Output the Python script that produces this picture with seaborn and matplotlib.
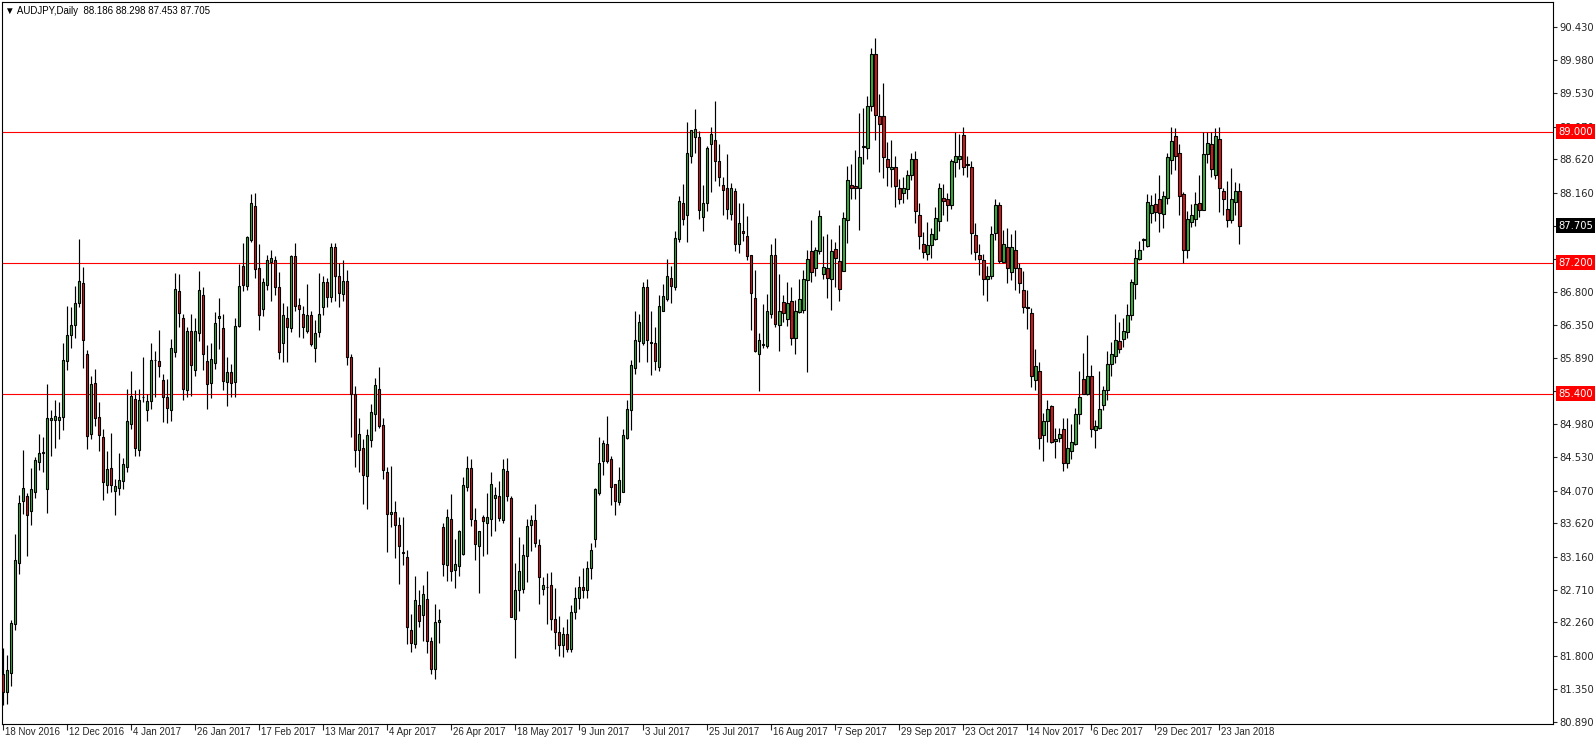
import pandas as pd
import matplotlib
matplotlib.use("Agg")
import matplotlib.pyplot as plt
import seaborn as sns
from matplotlib.transforms import blended_transform_factory, ScaledTranslation

# AUDJPY daily candles (one row per trading day)
opens = [
    81.55, 81.31, 81.57, 82.24, 83.08, 83.93, 84.00, 83.79, 84.05, 84.46,
    84.59, 84.09, 85.04, 85.04, 85.04, 85.08, 85.85, 86.21, 86.35, 86.65,
    86.92, 85.94, 84.85, 85.55, 85.08, 84.81, 84.14, 84.38, 84.06, 84.11,
    84.20, 84.39, 84.99, 85.33, 84.63, 85.35, 85.18, 85.30, 85.86, 85.85,
    85.59, 85.36, 85.18, 85.97, 86.81, 86.44, 85.45, 86.26, 85.73, 86.23,
    86.76, 85.85, 85.55, 85.82, 86.44, 86.30, 85.56, 85.70, 85.56, 86.33,
    87.15, 86.88, 87.51, 87.98, 87.13, 86.57, 86.90, 87.21, 87.24, 86.87,
    86.09, 86.44, 86.30, 87.29, 86.62, 86.50, 86.26, 86.48, 86.03, 86.25,
    86.59, 86.94, 86.73, 87.41, 87.01, 86.77, 86.95, 85.91, 85.39, 84.63,
    84.66, 84.27, 84.77, 85.12, 85.47, 84.97, 84.33, 83.75, 83.78, 83.60,
    83.22, 83.16, 82.16, 81.96, 82.50, 82.36, 82.58, 82.00, 81.62, 82.27,
    83.57, 83.05, 83.68, 82.98, 83.03, 83.20, 84.12, 84.38, 83.66, 83.31,
    83.71, 83.63, 83.68, 83.97, 84.00, 83.67, 84.34, 83.97, 82.31, 82.70,
    82.72, 83.17, 83.60, 83.67, 83.32, 82.72, 82.74, 82.77, 82.31, 82.13,
    81.95, 82.10, 81.90, 82.40, 82.60, 82.75, 82.70, 83.00, 83.40, 84.04,
    84.47, 84.71, 84.50, 84.16, 83.91, 84.05, 84.79, 85.17, 85.75, 86.12,
    86.10, 86.87, 86.11, 86.10, 85.77, 86.54, 86.70, 86.99, 86.87, 87.53,
    88.02, 87.85, 88.67, 88.92, 88.92, 87.83, 88.02, 88.83, 88.89, 88.60,
    88.27, 88.22, 87.87, 88.18, 87.45, 87.64, 87.56, 87.30, 86.72, 85.95,
    86.07, 86.05, 86.50, 87.31, 86.34, 86.66, 86.43, 86.67, 86.16, 86.52,
    86.55, 86.96, 87.36, 87.12, 87.36, 87.05, 87.13, 86.97, 87.39, 87.22,
    87.09, 87.79, 88.27, 88.25, 88.23, 88.79, 88.77, 89.35, 90.07, 89.21,
    89.21, 88.63, 88.48, 88.51, 88.22, 88.15, 88.21, 88.41, 88.62, 87.86,
    87.46, 87.32, 87.44, 87.52, 87.77, 88.09, 88.07, 87.99, 88.58, 88.62,
    88.96, 88.55, 88.52, 87.58, 87.31, 87.23, 86.98, 87.02, 87.61, 87.99,
    87.21, 87.41, 87.07, 87.38, 87.12, 86.82, 86.59, 86.51, 85.59, 85.71,
    84.84, 85.03, 85.23, 84.75, 84.79, 84.91, 84.45, 84.61, 84.71, 85.12,
    85.60, 85.40, 85.65, 84.90, 84.93, 85.24, 85.45, 85.81, 85.92, 86.12,
    86.15, 86.25, 86.48, 86.91, 87.25, 87.51, 87.43, 87.88, 88.01, 88.07,
    87.87, 88.09, 88.61, 88.94, 88.70, 88.14, 87.37, 87.76, 87.80, 88.02,
    87.93, 88.69, 88.83, 88.40, 88.90, 88.19, 87.94, 87.78, 88.04, 88.186,
]
highs = [
    81.91, 81.81, 82.29, 83.48, 84.01, 84.63, 84.03, 84.38, 84.53, 84.85,
    84.81, 85.54, 85.17, 85.32, 85.28, 86.09, 86.61, 86.59, 86.88, 87.52,
    87.14, 86.00, 85.65, 85.74, 85.29, 84.91, 84.61, 84.86, 84.23, 84.59,
    84.52, 85.47, 85.71, 85.45, 85.47, 85.91, 85.40, 86.09, 85.98, 86.28,
    85.67, 85.60, 86.15, 87.06, 87.04, 86.50, 86.32, 86.50, 86.44, 87.08,
    86.86, 86.07, 86.10, 86.52, 86.72, 86.49, 85.90, 85.81, 86.44, 87.18,
    87.47, 87.57, 88.14, 88.16, 87.45, 86.99, 87.31, 87.38, 87.29, 87.07,
    86.64, 86.60, 87.31, 87.47, 86.71, 86.60, 86.91, 86.54, 86.41, 87.06,
    87.02, 86.99, 87.47, 87.47, 87.20, 87.23, 87.10, 85.94, 85.50, 85.07,
    84.78, 84.92, 85.26, 85.61, 85.77, 85.07, 84.40, 84.41, 83.92, 83.71,
    83.71, 83.26, 82.38, 82.90, 82.70, 82.77, 82.96, 82.06, 82.51, 82.44,
    83.62, 83.81, 84.02, 83.41, 83.53, 84.26, 84.54, 84.51, 83.83, 83.52,
    83.73, 84.04, 84.33, 84.12, 84.20, 84.51, 84.52, 83.99, 83.08, 83.43,
    83.33, 83.68, 83.73, 83.88, 83.41, 82.88, 82.94, 82.95, 82.73, 82.35,
    82.20, 82.30, 82.50, 82.75, 82.90, 83.00, 83.10, 83.35, 84.11, 84.81,
    84.77, 85.09, 84.55, 84.16, 84.39, 84.91, 85.32, 85.86, 86.53, 86.49,
    86.93, 86.97, 86.54, 86.32, 86.76, 86.91, 87.25, 87.15, 87.64, 88.12,
    88.28, 89.13, 89.02, 89.31, 89.01, 88.26, 88.80, 89.07, 89.42, 88.83,
    88.37, 88.69, 88.30, 88.22, 88.02, 88.02, 87.84, 87.30, 87.10, 86.24,
    86.63, 86.77, 87.46, 87.54, 87.04, 86.75, 86.93, 86.87, 86.69, 86.97,
    87.10, 87.38, 87.79, 87.42, 87.93, 87.56, 87.59, 87.52, 87.48, 87.72,
    87.90, 88.53, 88.55, 88.75, 89.26, 89.33, 89.49, 90.15, 90.29, 89.52,
    89.67, 88.86, 88.88, 88.66, 88.35, 88.38, 88.47, 88.71, 88.73, 88.02,
    87.62, 87.76, 87.67, 87.97, 88.29, 88.28, 88.16, 88.63, 88.99, 88.97,
    89.06, 88.67, 88.60, 87.75, 87.45, 87.32, 87.15, 87.71, 88.08, 88.03,
    87.65, 87.68, 87.59, 87.65, 87.19, 87.08, 86.83, 86.58, 86.02, 85.84,
    85.13, 85.31, 85.25, 84.93, 84.93, 85.06, 85.06, 84.99, 85.21, 85.71,
    85.96, 86.20, 85.80, 85.04, 85.71, 85.51, 85.99, 86.11, 86.49, 86.38,
    86.44, 86.63, 86.98, 87.39, 87.50, 87.54, 88.14, 88.13, 88.16, 88.40,
    88.18, 88.71, 89.07, 89.05, 88.83, 88.17, 87.91, 88.01, 88.17, 88.41,
    88.99, 88.99, 88.99, 89.05, 89.06, 88.22, 88.32, 88.50, 88.31, 88.298,
]
lows = [
    81.12, 81.14, 81.38, 82.16, 82.93, 83.75, 83.17, 83.60, 83.97, 84.35,
    84.32, 83.76, 84.55, 84.65, 84.78, 84.90, 85.72, 86.03, 86.16, 86.59,
    85.75, 84.64, 84.78, 84.96, 84.61, 83.94, 84.03, 84.05, 83.74, 84.01,
    84.09, 84.32, 84.91, 84.55, 84.55, 85.29, 85.03, 85.19, 85.35, 85.63,
    85.01, 85.00, 85.03, 85.91, 86.32, 85.32, 85.35, 85.37, 85.64, 86.12,
    85.73, 85.19, 85.34, 85.74, 86.02, 85.45, 85.23, 85.35, 85.35, 86.32,
    86.81, 86.83, 87.48, 86.99, 86.28, 86.47, 86.83, 86.67, 86.75, 85.88,
    85.83, 85.83, 86.25, 86.54, 86.18, 86.16, 86.23, 86.05, 85.83, 86.18,
    86.48, 86.59, 86.66, 86.68, 86.59, 86.67, 85.79, 84.80, 84.40, 84.33,
    83.88, 83.81, 84.67, 84.89, 84.93, 84.23, 83.22, 83.57, 83.14, 82.79,
    83.05, 81.96, 81.85, 81.91, 82.19, 82.00, 81.84, 81.55, 81.48, 81.97,
    82.89, 82.83, 82.83, 82.73, 82.90, 83.19, 84.07, 83.59, 83.11, 82.67,
    83.17, 83.20, 83.44, 83.51, 83.65, 83.62, 83.92, 82.33, 81.77, 82.42,
    82.66, 82.81, 83.24, 83.29, 82.51, 82.64, 82.24, 82.15, 81.90, 81.80,
    81.78, 81.85, 81.85, 82.30, 82.45, 82.60, 82.60, 82.85, 83.30, 84.01,
    84.28, 84.45, 83.87, 83.73, 83.87, 84.05, 84.78, 84.90, 85.67, 85.83,
    86.07, 85.83, 85.66, 85.72, 85.71, 86.53, 86.68, 86.64, 86.83, 87.48,
    87.72, 87.48, 88.57, 88.70, 87.80, 87.64, 87.91, 88.17, 88.32, 88.25,
    87.85, 87.80, 87.78, 87.36, 87.33, 87.50, 87.24, 86.28, 85.97, 85.44,
    86.03, 86.03, 86.44, 86.32, 85.99, 86.38, 86.33, 86.07, 85.94, 86.51,
    86.51, 85.70, 86.93, 87.02, 87.32, 86.98, 86.71, 86.55, 86.87, 86.67,
    87.08, 87.47, 88.08, 88.08, 87.65, 88.55, 88.63, 89.28, 88.88, 88.45,
    88.36, 88.25, 88.24, 87.96, 88.00, 88.02, 88.08, 88.33, 87.75, 87.39,
    87.27, 87.24, 87.26, 87.51, 87.63, 87.86, 87.77, 87.94, 88.38, 88.49,
    88.40, 88.38, 87.32, 87.23, 87.03, 86.76, 86.67, 86.98, 87.51, 87.19,
    87.19, 86.92, 86.96, 86.83, 86.78, 86.51, 86.29, 85.49, 85.45, 84.64,
    84.48, 84.74, 84.73, 84.52, 84.74, 84.34, 84.38, 84.50, 84.70, 84.99,
    85.39, 85.38, 84.81, 84.66, 84.91, 85.18, 85.32, 85.65, 85.82, 85.96,
    86.04, 86.16, 86.41, 86.70, 87.24, 87.37, 87.41, 87.75, 87.77, 87.62,
    87.68, 88.00, 88.42, 88.47, 87.86, 87.20, 87.27, 87.69, 87.70, 87.83,
    87.92, 88.57, 88.37, 88.35, 87.90, 87.86, 87.69, 87.74, 87.85, 87.453,
]
closes = [
    81.31, 81.60, 82.25, 83.11, 83.90, 84.11, 83.74, 84.09, 84.49, 84.59,
    84.60, 85.07, 85.07, 85.09, 85.08, 85.87, 86.21, 86.35, 86.65, 86.95,
    86.14, 84.82, 85.54, 85.07, 84.84, 84.19, 84.37, 84.15, 84.13, 84.22,
    84.44, 85.02, 85.37, 84.66, 85.31, 85.36, 85.30, 85.87, 85.86, 85.78,
    85.35, 85.21, 86.03, 86.84, 86.51, 85.46, 86.26, 85.79, 86.26, 86.83,
    85.95, 85.54, 85.88, 86.37, 86.47, 85.57, 85.70, 85.55, 86.33, 86.88,
    86.90, 87.55, 88.02, 87.11, 86.48, 86.93, 87.24, 87.27, 86.87, 85.97,
    86.48, 86.32, 87.29, 86.60, 86.57, 86.32, 86.48, 86.08, 86.24, 86.50,
    86.94, 86.73, 87.42, 87.02, 86.78, 86.95, 85.90, 85.39, 84.63, 84.85,
    84.29, 84.84, 85.15, 85.52, 84.96, 84.35, 83.75, 83.78, 83.60, 83.31,
    83.21, 82.19, 81.98, 82.57, 82.28, 82.65, 82.00, 81.62, 82.27, 82.29,
    83.06, 83.71, 82.97, 83.06, 83.51, 84.15, 84.38, 83.68, 83.33, 83.51,
    83.65, 83.71, 84.16, 84.01, 83.70, 84.36, 83.99, 82.34, 82.71, 82.96,
    83.19, 83.58, 83.66, 83.35, 82.88, 82.77, 82.74, 82.30, 82.13, 81.95,
    82.10, 81.90, 82.40, 82.60, 82.75, 82.70, 83.00, 83.25, 84.09, 84.45,
    84.73, 84.47, 84.12, 83.92, 84.22, 84.84, 85.19, 85.79, 86.14, 86.38,
    86.86, 86.14, 86.10, 85.85, 86.61, 86.74, 87.02, 86.88, 87.54, 88.05,
    87.80, 88.70, 89.02, 89.03, 87.93, 88.02, 88.78, 88.97, 88.60, 88.38,
    88.20, 87.94, 88.22, 87.45, 87.74, 87.61, 87.29, 86.79, 85.99, 86.14,
    86.08, 86.53, 87.31, 86.36, 86.54, 86.51, 86.65, 86.16, 86.54, 86.70,
    86.98, 87.25, 87.07, 87.37, 87.84, 87.14, 86.99, 87.36, 87.26, 86.84,
    87.82, 88.34, 88.23, 88.23, 88.65, 88.80, 89.35, 90.07, 89.23, 89.11,
    88.65, 88.51, 88.51, 88.25, 88.07, 88.23, 88.40, 88.63, 87.91, 87.57,
    87.35, 87.44, 87.60, 87.82, 88.23, 88.05, 87.99, 88.60, 88.67, 88.67,
    88.51, 88.54, 87.61, 87.34, 87.25, 86.98, 87.01, 87.60, 87.99, 87.22,
    87.45, 87.13, 87.41, 87.13, 86.92, 86.59, 86.58, 85.64, 85.78, 84.79,
    85.02, 85.19, 84.74, 84.78, 84.85, 84.45, 84.66, 84.74, 85.12, 85.35,
    85.40, 85.65, 84.92, 84.95, 85.19, 85.45, 85.81, 85.94, 86.14, 86.01,
    86.26, 86.48, 86.93, 87.27, 87.37, 87.52, 88.04, 87.99, 87.90, 87.88,
    88.12, 88.65, 88.87, 88.66, 88.11, 87.37, 87.80, 87.86, 88.01, 87.93,
    88.69, 88.85, 88.48, 88.94, 88.22, 88.07, 87.78, 88.07, 88.19, 87.705,
]

date_labels = ["18 Nov 2016", "12 Dec 2016", "4 Jan 2017", "26 Jan 2017", "17 Feb 2017",
               "13 Mar 2017", "4 Apr 2017", "26 Apr 2017", "18 May 2017", "9 Jun 2017",
               "3 Jul 2017", "25 Jul 2017", "16 Aug 2017", "7 Sep 2017", "29 Sep 2017",
               "23 Oct 2017", "14 Nov 2017", "6 Dec 2017", "29 Dec 2017", "23 Jan 2018"]
price_ticks = [90.430, 89.980, 89.530, 89.070, 88.620, 88.160, 87.705, 87.250, 86.800, 86.350,
               85.890, 85.440, 84.980, 84.530, 84.070, 83.620, 83.160, 82.710, 82.260, 81.800,
               81.350, 80.890]
# scale labels that sit fully under a price box in the terminal
hidden_ticks = [87.705, 85.440]
levels = [89.0, 87.2, 85.4]
last_price = 87.705
header = "\u25bc AUDJPY,Daily  88.186 88.298 87.453 87.705"

df = pd.DataFrame({"open": opens, "high": highs, "low": lows, "close": closes})
df["bar"] = range(len(df))
df["bull"] = df["close"] >= df["open"]

sns.set_style("white")
plt.rcParams["font.family"] = ["Liberation Sans", "DejaVu Sans"]

W, H = 1596, 744
fig = plt.figure(figsize=(W / 100, H / 100), dpi=100)
ax = fig.add_axes([2 / W, (H - 724) / H, (1553 - 2) / W, (724 - 2) / H])

# support / resistance lines
for lv in levels:
    ax.axhline(lv, color="#ff0000", lw=0.8, zorder=1)

# candles: wicks then bodies
ax.vlines(df["bar"], df["low"], df["high"], color="black", lw=0.85, zorder=2)
body_low = df[["open", "close"]].min(axis=1)
body_h = (df["close"] - df["open"]).abs().clip(lower=0.002)
colors = ["#34b234" if b else "#e01414" for b in df["bull"]]
ax.bar(df["bar"], body_h, bottom=body_low, width=0.6, color=colors,
       edgecolor="black", linewidth=0.8, zorder=3)

ax.set_xlim(-0.3, 387.4)
ax.set_ylim(80.864, 90.78)

# right price scale
ax.yaxis.tick_right()
ax.set_yticks(price_ticks)
ax.set_yticklabels(["" if t in hidden_ticks else f"{t:.3f}" for t in price_ticks],
                   fontfamily="DejaVu Sans")
ax.tick_params(axis="y", direction="out", length=3, width=0.8, labelsize=7.2, pad=1.4,
               right=True, left=False)

# date axis
ax.set_xticks(list(range(0, 16 * len(date_labels), 16)))
ax.set_xticklabels(date_labels)
ax.tick_params(axis="x", direction="out", length=4, width=0.8, labelsize=7, pad=-1.5, bottom=True)
shift = ScaledTranslation(1.5 / 100, 0, fig.dpi_scale_trans)
for lbl in ax.get_xticklabels():
    lbl.set_ha("left")
    lbl.set_transform(lbl.get_transform() + shift)

for sp in ax.spines.values():
    sp.set_color("black")
    sp.set_linewidth(0.8)

# price boxes on the scale
trans = blended_transform_factory(ax.transAxes, ax.transData) + ScaledTranslation(5 / 100, 0, fig.dpi_scale_trans)
for lv in levels:
    ax.text(1.0, lv, f"{lv:.3f}", transform=trans, ha="left", va="center", color="white",
            fontsize=7.2, fontfamily="DejaVu Sans", clip_on=False, zorder=6,
            bbox=dict(boxstyle="square,pad=0.25", fc="#ff0000", ec="none"))
ax.text(1.0, last_price, f"{last_price:.3f}", transform=trans, ha="left", va="center", color="white",
        fontsize=7.2, fontfamily="DejaVu Sans", clip_on=False, zorder=6,
        bbox=dict(boxstyle="square,pad=0.25", fc="black", ec="none"))

fig.text(5 / W, 1 - 11 / H, header, fontsize=7, va="center", ha="left", color="black")

fig.savefig("out.png", dpi=100)
